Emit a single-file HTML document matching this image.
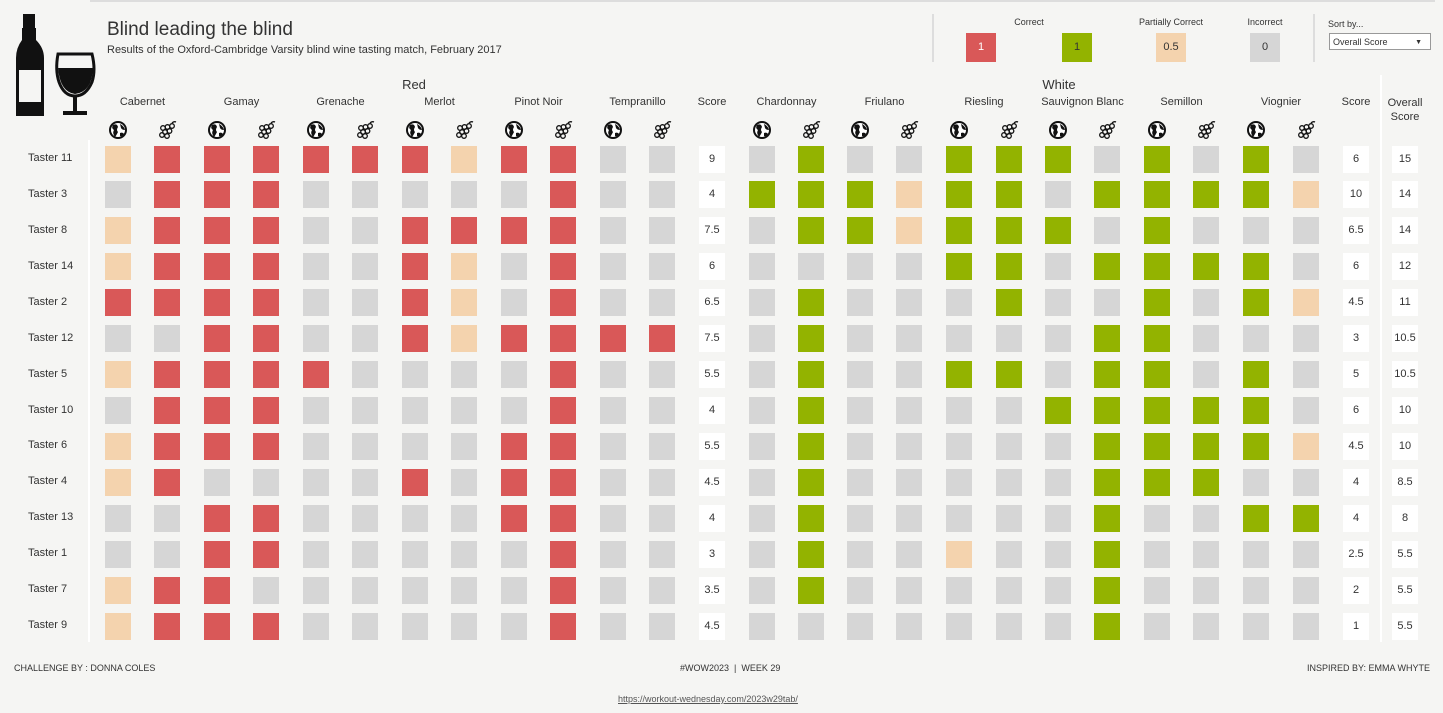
<!DOCTYPE html>
<html><head><meta charset="utf-8">
<style>
body{margin:0;width:1443px;height:713px;background:#f5f5f3;font-family:"Liberation Sans",sans-serif;color:#333;position:relative;overflow:hidden}
.a{position:absolute;white-space:nowrap}
.c{position:absolute;width:26px;height:27px}
.R{background:#d95858}.G{background:#93b300}.P{background:#f4d3ae}.X{background:#d6d6d6}
.s{position:absolute;width:26px;height:27px;background:#fff;font-size:11px;text-align:center;line-height:27px;color:#333}
.lab{position:absolute;font-size:11px;color:#333;text-align:center;width:100px}
</style></head><body>
<div class="a" style="left:90px;top:0;width:1345px;height:2px;background:#ddd"></div>
<svg class="a" style="left:14px;top:12px" width="84" height="106">
<rect x="9" y="2" width="12" height="14" fill="#111"/>
<path d="M8 16 H22 V28 Q30 36 30 46 V104 H2 V46 Q2 36 8 28Z" fill="#111"/>
<rect x="5" y="58" width="22" height="32" fill="#f5f5f3"/>
<path d="M44 42 H78 Q82 58 78 70 Q72 84 61 84 Q50 84 45 70 Q41 58 44 42Z" fill="none" stroke="#111" stroke-width="3"/>
<path d="M44 56 H79 Q78 80 61 82 Q46 80 44 56Z" fill="#111"/>
<rect x="59" y="84" width="4" height="16" fill="#111"/>
<rect x="49" y="99" width="24" height="4" fill="#111"/>
</svg>
<div class="a" style="left:107px;top:19px;font-size:19px;color:#333">Blind leading the blind</div>
<div class="a" style="left:107px;top:44px;font-size:11px;color:#333">Results of the Oxford-Cambridge Varsity blind wine tasting match, February 2017</div>
<div class="a" style="left:932px;top:14px;width:2px;height:48px;background:#ddd"></div>
<div class="a" style="left:1313px;top:14px;width:2px;height:48px;background:#ddd"></div>
<div class="lab" style="left:979px;top:17px;font-size:9px">Correct</div>
<div class="lab" style="left:1121px;top:17px;font-size:9px">Partially Correct</div>
<div class="lab" style="left:1215px;top:17px;font-size:9px">Incorrect</div>
<div class="a R" style="left:966px;top:33px;width:30px;height:29px;color:#fff;font-size:11px;text-align:center;line-height:29px">1</div>
<div class="a G" style="left:1062px;top:33px;width:30px;height:29px;font-size:11px;text-align:center;line-height:29px">1</div>
<div class="a P" style="left:1156px;top:33px;width:30px;height:29px;font-size:11px;text-align:center;line-height:29px">0.5</div>
<div class="a X" style="left:1250px;top:33px;width:30px;height:29px;font-size:11px;text-align:center;line-height:29px">0</div>
<div class="a" style="left:1328px;top:19px;font-size:9px">Sort by...</div>
<div class="a" style="left:1329px;top:33px;width:102px;height:17px;border:1px solid #999;background:#fff;font-size:9px;line-height:17px;padding-left:3px;box-sizing:border-box">Overall Score<span style="position:absolute;right:8px;font-size:7px">▼</span></div>
<div class="a" style="left:1380px;top:75px;width:2px;height:567px;background:#fff"></div>
<div class="a" style="left:88px;top:140px;width:2px;height:502px;background:#fff"></div>
<div class="lab" style="left:364px;top:77px;font-size:13px">Red</div>
<div class="lab" style="left:1009px;top:77px;font-size:13px">White</div>
<div id="g"></div>
<div class="a" style="left:14px;top:663px;font-size:9px">CHALLENGE BY : DONNA COLES</div>
<div class="a" style="left:680px;top:663px;font-size:9px">#WOW2023 &nbsp;|&nbsp; WEEK 29</div>
<div class="a" style="left:1307px;top:663px;font-size:9px">INSPIRED BY: EMMA WHYTE</div>
<div class="a" style="left:618px;top:694px;font-size:9px;color:#555;text-decoration:underline">https://workout-wednesday.com/2023w29tab/</div>
<script>
var redX=[118,167,217,266,316,365,415,464,514,563,613,662],whX=[762,811,860,909,959,1009,1058,1107,1157,1206,1256,1306];
var rv=["Cabernet","Gamay","Grenache","Merlot","Pinot Noir","Tempranillo"],wv=["Chardonnay","Friulano","Riesling","Sauvignon Blanc","Semillon","Viognier"];
var d=[
["Taster 11","PRRRRRRPRR..","9",".G..GGG.G.G.","6","15"],
["Taster 3",".RRR.....R..","4","GGGPGG.GGGGP","10","14"],
["Taster 8","PRRR..RRRR..","7.5",".GGPGGG.G...","6.5","14"],
["Taster 14","PRRR..RP.R..","6","....GG.GGGG.","6","12"],
["Taster 2","RRRR..RP.R..","6.5",".G...G..G.GP","4.5","11"],
["Taster 12","..RR..RPRRRR","7.5",".G.....GG...","3","10.5"],
["Taster 5","PRRRR....R..","5.5",".G..GG.GG.G.","5","10.5"],
["Taster 10",".RRR.....R..","4",".G....GGGGG.","6","10"],
["Taster 6","PRRR....RR..","5.5",".G.....GGGGP","4.5","10"],
["Taster 4","PR....R.RR..","4.5",".G.....GGG..","4","8.5"],
["Taster 13","..RR....RR..","4",".G.....G..GG","4","8"],
["Taster 1","..RR.....R..","3",".G..P..G....","2.5","5.5"],
["Taster 7","PRR......R..","3.5",".G.....G....","2","5.5"],
["Taster 9","PRRR.....R..","4.5",".......G....","1","5.5"]];
var h="";
function lab(x,t){h+='<div class="lab" style="left:'+(x-50)+'px;top:96px">'+t+'</div>';}
for(var i=0;i<6;i++){lab((redX[2*i]+redX[2*i+1])/2,rv[i]);lab((whX[2*i]+whX[2*i+1])/2,wv[i]);}
lab(712,"Score");lab(1356,"Score");
h+='<div class="lab" style="left:1355px;top:96px;line-height:14px">Overall<br>Score</div>';
var globe='<svg width="20" height="20" viewBox="0 0 20 20"><circle cx="10" cy="10" r="9" fill="#111"/><circle cx="10" cy="10" r="7" fill="#fff"/><path d="M5 5 Q9 3 10 7 Q8 10 10 12 Q8 16 7 17 Q4 13 6 10 Q3 8 5 5Z M12 4 Q16 6 17 10 Q14 10 13 8Z M12 13 Q15 12 16 14 Q14 17 12 16Z" fill="#111"/></svg>';
var grape='<svg width="20" height="20" viewBox="0 0 20 20" fill="none" stroke="#111" stroke-width="1.3"><circle cx="6" cy="8" r="2.3"/><circle cx="10.5" cy="7" r="2.3"/><circle cx="15" cy="6" r="2.3"/><circle cx="8" cy="12" r="2.3"/><circle cx="12.5" cy="11" r="2.3"/><circle cx="10" cy="16" r="2.3"/><circle cx="5" cy="15" r="2.3"/><path d="M15 3 Q17 1 19 2"/></svg>';
var all=redX.concat(whX);
for(var j=0;j<24;j++)h+='<div class="a" style="left:'+(all[j]-10)+'px;top:120px">'+(j%2?grape:globe)+'</div>';
for(var r=0;r<14;r++){var cy=159+r*35.93,t=Math.round(cy-13.5);var row=d[r];
h+='<div class="a" style="left:28px;top:'+(cy-7)+'px;font-size:11px">'+row[0]+'</div>';
for(var j=0;j<12;j++){var c=row[1][j];h+='<div class="c '+(c=="."?"X":c)+'" style="left:'+(redX[j]-13)+'px;top:'+t+'px"></div>';
c=row[3][j];h+='<div class="c '+(c=="."?"X":c)+'" style="left:'+(whX[j]-13)+'px;top:'+t+'px"></div>';}
h+='<div class="s" style="left:699px;top:'+t+'px">'+row[2]+'</div>';
h+='<div class="s" style="left:1343px;top:'+t+'px">'+row[4]+'</div>';
h+='<div class="s" style="left:1392px;top:'+t+'px">'+row[5]+'</div>';}
document.getElementById("g").innerHTML=h;
</script>
</body></html>
